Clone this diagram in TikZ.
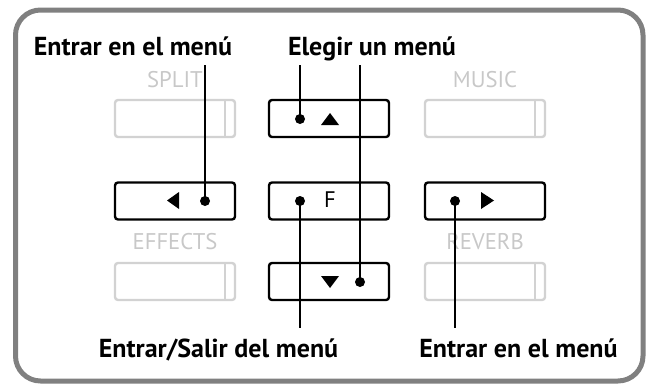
\documentclass[tikz,border=0pt]{standalone}
\usepackage{fontspec}
\setmainfont{PT Sans}
\definecolor{framegray}{HTML}{808080}
\definecolor{lightgray}{HTML}{D2D2D2}
\definecolor{labelgray}{HTML}{C8C8C8}
\begin{document}
\begin{tikzpicture}[x=1pt,y=-1pt,
  keybox/.style={draw=black,line width=2.4pt,rounded corners=3pt,minimum width=120pt,minimum height=37pt,inner sep=0pt},
  grayfield/.style={draw=lightgray,line width=2.4pt,rounded corners=3pt,minimum width=120pt,minimum height=37pt,inner sep=0pt},
  graylabel/.style={text=labelgray,font=\fontsize{22.7}{22.7}\selectfont,inner sep=0pt},
  callout/.style={font=\bfseries\fontsize{26}{26}\selectfont,anchor=base,inner sep=0pt},
  dotmark/.style={circle,fill=black,inner sep=0pt,minimum size=10pt},
  wire/.style={line width=1.2pt,black},
  arrowtri/.style={fill=black}]
\useasboundingbox (0,0) rectangle (647,383);
% outer frame
\draw[framegray,line width=5pt,rounded corners=25pt] (15.5,10) rectangle (643,381);
% gray fields
\node[grayfield] (split) at (175,118.5) {};
\node[grayfield] (music) at (485,118.5) {};
\node[grayfield] (effects) at (175,281.5) {};
\node[grayfield] (reverb) at (485,281.5) {};
\foreach \n in {split,music,effects,reverb}
  \draw[lightgray,line width=2pt] ([xshift=50pt]\n.north) -- ([xshift=50pt]\n.south);
\node[graylabel] (splitl) at (175,79.5) {SPLIT};
\node[graylabel] (musicl) at (485,79.5) {MUSIC};
\node[graylabel] (effectsl) at (175,241.5) {EFFECTS};
\node[graylabel] (reverbl) at (485,241.5) {REVERB};
% keys
\node[keybox] (up) at (329,118.5) {};
\node[keybox] (left) at (175,201) {};
\node[keybox] (fkey) at (329,201) {};
\node[keybox] (right) at (485,201) {};
\node[keybox] (down) at (329,281.5) {};
\node[font=\fontsize{22.5}{22.5}\selectfont,inner sep=0pt] (ftext) at (330,200) {F};
% triangles
\fill[arrowtri] (321,125) -- (339,125) -- (330,113) -- cycle;
\fill[arrowtri] (321,276) -- (339,276) -- (330,288) -- cycle;
\fill[arrowtri] (179,192) -- (179,209) -- (167,200.5) -- cycle;
\fill[arrowtri] (481,192) -- (481,209) -- (494,200.5) -- cycle;
% dots
\node[dotmark] (dleft) at (205,201) {};
\node[dotmark] (dup) at (300,119) {};
\node[dotmark] (df) at (300,201) {};
\node[dotmark] (ddown) at (360,282) {};
\node[dotmark] (dright) at (455,201) {};
% callouts
\node[callout] (enter1) at (133,55) {Entrar en el menú};
\node[callout] (choose) at (372,55) {Elegir un menú};
\node[callout] (exit) at (218.5,357) {Entrar/Salir del menú};
\node[callout] (enter2) at (518.5,357) {Entrar en el menú};
\coordinate (tA) at (205,65);
\coordinate (tB) at (300,65);
\coordinate (tC) at (360,65);
\coordinate (bA) at (300,328);
\coordinate (bB) at (455,328);
% wires
\draw[wire] (tA) -- (dleft.center);
\draw[wire] (tB) -- (dup.center);
\draw[wire] (tC) -- (ddown.center);
\draw[wire] (df.center) -- (bA);
\draw[wire] (dright.center) -- (bB);
\end{tikzpicture}
\end{document}
